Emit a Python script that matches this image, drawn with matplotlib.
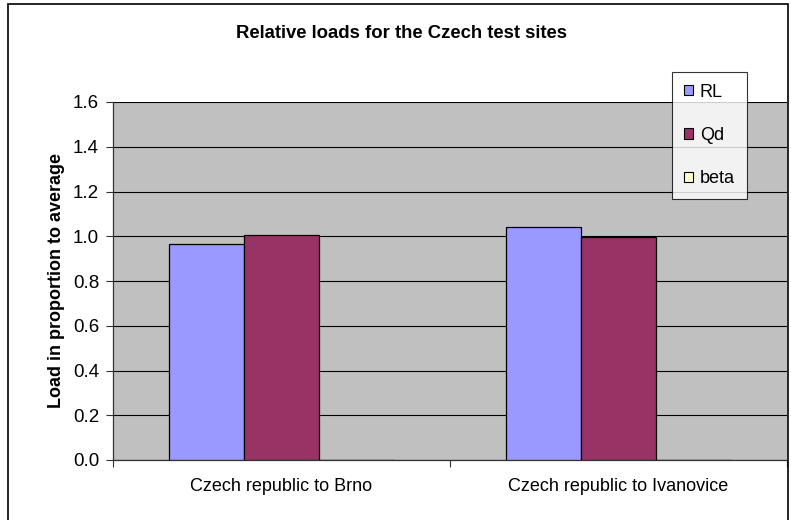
import matplotlib
matplotlib.use("Agg")
import matplotlib.pyplot as plt
from matplotlib.patches import Patch, Rectangle
import numpy as np

plt.rcParams['font.family'] = ['Liberation Sans', 'DejaVu Sans']

sites = ["Czech republic to Brno", "Czech republic to Ivanovice"]
series = ["RL", "Qd", "beta"]
rl = [0.965, 1.04]
qd = [1.005, 0.995]
beta = [0.0, 0.0]
colors = ["#9999FF", "#993366", "#FFFFCC"]
yticks = [0.0, 0.2, 0.4, 0.6, 0.8, 1.0, 1.2, 1.4, 1.6]

fig = plt.figure(figsize=(7.91, 5.20), dpi=100)
ax = fig.add_axes([113/791, 1 - 460/520, (787 - 113)/791, (460 - 102)/520])
ax.set_facecolor("#C0C0C0")

x = np.arange(len(sites))
w = 0.2234
for i, (vals, c) in enumerate(zip([rl, qd, beta], colors)):
    ax.bar(x + (i - 1) * w, vals, w, color=c, edgecolor="black",
           linewidth=0.9, zorder=3)

ax.set_xlim(-0.5, len(sites) - 0.5)
ax.set_ylim(0, 1.6)
ax.set_yticks(yticks)
ax.set_yticklabels([f"{v:.1f}" for v in yticks], fontsize=13.5)
ax.yaxis.grid(True, color="black", linewidth=0.8, zorder=1)
ax.set_axisbelow(True)

# category labels in the middle, tick marks on the boundaries
ax.set_xticks(x)
ax.set_xticklabels(sites, fontsize=13)
ax.tick_params(axis="x", length=0, pad=13)
ax.set_xticks(np.arange(-0.5, len(sites)), minor=True)
ax.tick_params(axis="x", which="minor", length=5, width=0.8, color="#333333")
ax.tick_params(axis="y", length=5, width=0.8, color="#333333", pad=5)

for s in ["top", "right"]:
    ax.spines[s].set_visible(False)
ax.spines["left"].set_color("#333333")
ax.spines["bottom"].set_color("#333333")
ax.spines["left"].set_linewidth(0.9)
ax.spines["bottom"].set_linewidth(0.9)

ax.set_ylabel("Load in proportion to average", fontsize=13, fontweight="bold",
              labelpad=6)
fig.text(401/791, 1 - 34/520, "Relative loads for the Czech test sites",
         ha="center", va="center", fontsize=13.3, fontweight="bold")

handles = [Patch(facecolor=c, edgecolor="black", linewidth=0.8) for c in colors]
leg = fig.legend(handles, series, loc="upper left",
                 bbox_to_anchor=(672/791, 1 - 72/520), fontsize=13,
                 frameon=True, fancybox=False, edgecolor="black",
                 handlelength=0.5, handleheight=0.5, handletextpad=0.4,
                 labelspacing=1.45, borderpad=0.65, borderaxespad=0)
leg.get_frame().set_linewidth(0.8)

fig.add_artist(Rectangle((8/791, -0.05), (788 - 8)/791, 1.05 - 4/520,
                         transform=fig.transFigure, fill=False,
                         edgecolor="black", linewidth=1.2))

fig.savefig("out.png", dpi=100)
